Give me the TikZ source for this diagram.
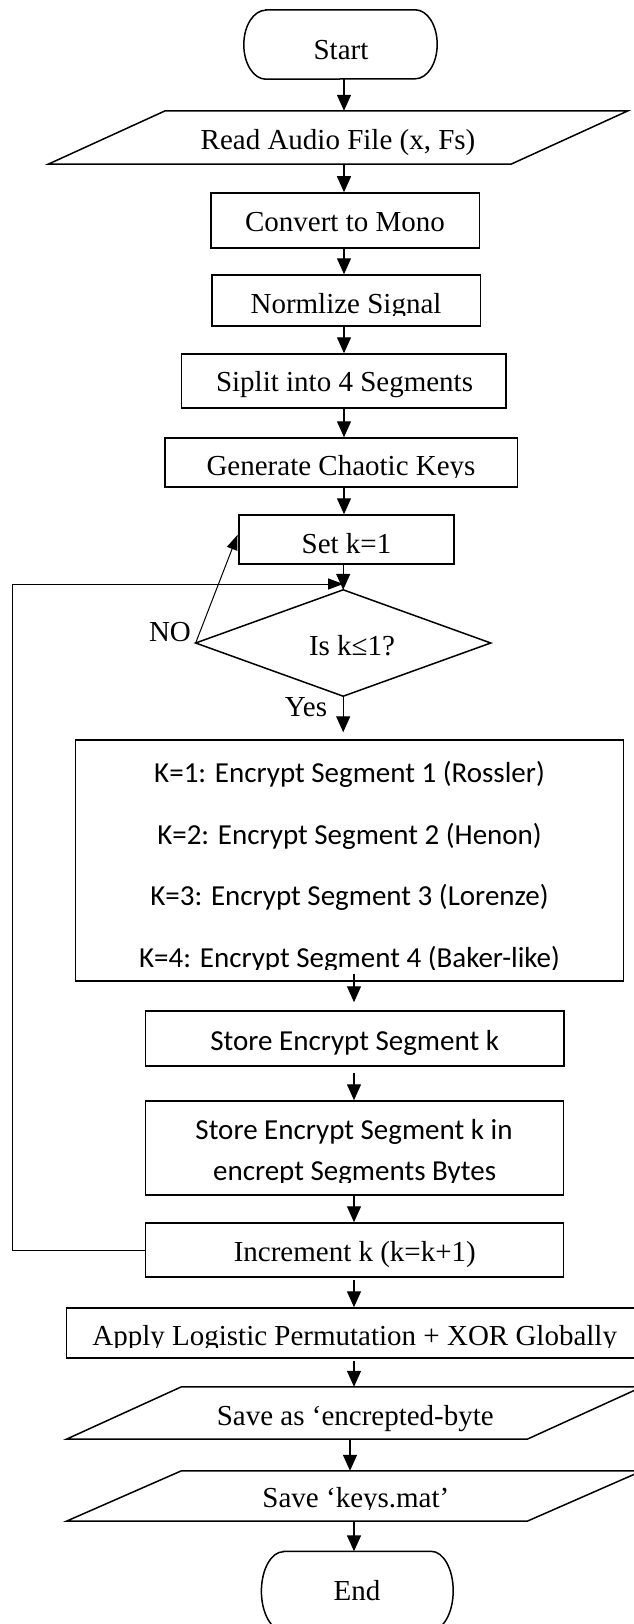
\documentclass[tikz,border=0pt]{standalone}
\usepackage{fontspec}
\setmainfont{Liberation Serif}
\newfontfamily\calfont{Carlito}
\usetikzlibrary{arrows.meta,calc}

\begin{document}
\begin{tikzpicture}[x=1pt,y=-1pt,
  outline/.style={line width=1.5pt},
  box/.style={rectangle, draw, outline, inner sep=0pt},
  ghost/.style={rectangle, draw=none, inner sep=0pt},
  lbl/.style={inner sep=0pt, anchor=base, font=\fontsize{29}{40}\selectfont},
  cal/.style={lbl, font=\calfont\fontsize{29}{40}\selectfont},
  flow/.style={line width=1.4pt, -{Triangle[length=16pt,width=14pt]}},
  thinarrow/.style={line width=1pt, -{Triangle[length=15pt,width=11pt]}},
]
\path[use as bounding box, fill=white] (0,0) rectangle (633,1624);

% column lines for the vertical connectors
\coordinate (cu) at (344,0);
\coordinate (cl) at (354,0);
\coordinate (cs) at (350,0);

% ---------- shapes ----------
\node[ghost, minimum width=193pt, minimum height=69pt] (start) at (340.5,44.5) {};
\draw[outline] ($(start.north west)+(22,0)$) -- ($(start.north east)+(-22,0)$)
  arc[start angle=90,end angle=-90,x radius=22pt,y radius=34.5pt]
  -- ($(start.south west)+(22,0)$)
  arc[start angle=270,end angle=90,x radius=22pt,y radius=34.5pt] -- cycle;

\node[ghost, minimum width=579.4pt, minimum height=53pt] (read) at (338.1,137.5) {};
\draw[outline] ($(read.north west)+(117,0)$) -- (read.north east)
  -- ($(read.south east)+(-117,0)$) -- (read.south west) -- cycle;

\node[box, minimum width=268.5pt, minimum height=55pt] (conv) at (345,220.5) {};
\node[box, minimum width=268.4pt, minimum height=51pt] (norm) at (346.2,300.5) {};
\node[box, minimum width=324.2pt, minimum height=54pt] (split) at (343.8,381) {};
\node[box, minimum width=352.5pt, minimum height=49pt] (gen) at (341,462.5) {};
\node[box, minimum width=215.2pt, minimum height=49pt] (setk) at (346.6,539.5) {};

\node[ghost, minimum width=294.7pt, minimum height=106pt] (dec) at (343.2,643) {};
\draw[outline] (dec.north) -- (dec.east) -- (dec.south) -- (dec.west) -- cycle;

\node[box, minimum width=548.2pt, minimum height=241pt] (big) at (349.6,860.5) {};
\node[box, minimum width=418.7pt, minimum height=55pt] (storek) at (354.7,1038.5) {};
\node[box, minimum width=418pt, minimum height=94pt] (storein) at (354.3,1148) {};
\node[box, minimum width=418pt, minimum height=54pt] (inc) at (354.3,1250) {};
\node[box, minimum width=576.4pt, minimum height=50pt] (apply) at (354.8,1333) {};

\node[ghost, minimum width=575.4pt, minimum height=52pt] (saveas) at (354.3,1413) {};
\draw[outline] ($(saveas.north west)+(115,0)$) -- (saveas.north east)
  -- ($(saveas.south east)+(-115,0)$) -- (saveas.south west) -- cycle;

\node[ghost, minimum width=575.4pt, minimum height=50pt] (savekeys) at (354.3,1496) {};
\draw[outline] ($(savekeys.north west)+(115,0)$) -- (savekeys.north east)
  -- ($(savekeys.south east)+(-115,0)$) -- (savekeys.south west) -- cycle;

\node[ghost, minimum width=191.4pt, minimum height=79pt] (end) at (357.3,1591) {};
\draw[outline] ($(end.north west)+(22,0)$) -- ($(end.north east)+(-22,0)$)
  arc[start angle=90,end angle=-90,x radius=22pt,y radius=39.5pt]
  -- ($(end.south west)+(22,0)$)
  arc[start angle=270,end angle=90,x radius=22pt,y radius=39.5pt] -- cycle;

% ---------- texts ----------
\node[lbl] (tstart) at (341,59.3) {Start};
\node[lbl] (tread) at (338,150) {Read Audio File (x, Fs)};
\node[lbl] (tconv) at (345,231.7) {Convert to Mono};
\begin{scope}
  \clip (0,280) rectangle (633,315);
  \node[lbl] (tnorm) at (346,313.3) {Normlize Signal};
\end{scope}
\node[lbl] (tsplit) at (344.5,391.7) {Siplit into 4 Segments};
\begin{scope}
  \clip (0,440) rectangle (633,477.7);
  \node[lbl] (tgen) at (341,475) {Generate Chaotic Keys};
\end{scope}
\node[lbl] (tsetk) at (346.5,553.3) {Set k=1};
\node[lbl] (tdec) at (352,655) {Is k≤1?};
\node[lbl] (tno) at (170,641.7) {NO};
\node[lbl] (tyes) at (306,716.7) {Yes};

\node[cal] (k1) at (349.5,782) {K=1: Encrypt Segment 1 (Rossler)};
\node[cal] (k2) at (349.5,844) {K=2: Encrypt Segment 2 (Henon)};
\node[cal] (k3) at (349.5,905) {K=3: Encrypt Segment 3 (Lorenze)};
\begin{scope}
  \clip (80,930) rectangle (620,969.5);
  \node[cal] (k4) at (349.5,967.3) {K=4: Encrypt Segment 4 (Baker-like)};
\end{scope}
\node[cal] (tstorek) at (354.7,1050) {Store Encrypt Segment k};
\node[cal] (tstore1) at (354,1139.5) {Store Encrypt Segment k in};
\begin{scope}
  \clip (150,1150) rectangle (560,1182);
  \node[cal] (tstore2) at (354.6,1180) {encrept Segments Bytes};
\end{scope}
\node[lbl] (tinc) at (354.8,1261.7) {Increment k (k=k+1)};
\begin{scope}
  \clip (70,1310) rectangle (633,1347);
  \node[lbl] (tapply) at (354.7,1345.7) {Apply Logistic Permutation + XOR Globally};
\end{scope}
\node[lbl] (tsaveas) at (355.3,1425) {Save as ‘encrepted-byte};
\begin{scope}
  \clip (100,1475) rectangle (600,1509.5);
  \node[lbl] (tsavekeys) at (355.9,1507.7) {Save ‘keys.mat’};
\end{scope}
\node[lbl] (tend) at (357,1600.7) {End};

% ---------- connectors ----------
\draw[flow] (start.south -| cu) -- (read.north -| cu);
\draw[flow] (read.south -| cu) -- (conv.north -| cu);
\draw[flow] (conv.south -| cu) -- (norm.north -| cu);
\draw[flow] (norm.south -| cu) -- (split.north -| cu);
\draw[flow] (split.south -| cu) -- (gen.north -| cu);
\draw[flow] (gen.south -| cu) -- (setk.north -| cu);
\draw[flow] (setk.south -| dec.north) -- (dec.north);
\draw[flow, shorten >=7pt] (dec.south) -- (dec.south |- big.north);
\draw[flow, shorten <=-8pt, shorten >=8pt] (big.south -| cl) -- (storek.north -| cl);
\draw[flow, shorten <=6pt] (storek.south -| cl) -- (storein.north -| cl);
\draw[flow] (storein.south -| cl) -- (inc.north -| cl);
\draw[flow, shorten <=2pt] (inc.south -| cl) -- (apply.north -| cl);
\draw[flow, shorten <=2pt] (apply.south -| cl) -- (saveas.north -| cl);
\draw[flow] (saveas.south -| cs) -- (savekeys.north -| cs);
\draw[flow] (savekeys.south -| cl) -- (end.north -| cl);

% NO branch back to the initialisation
\draw[thinarrow, shorten >=2pt] (dec.west) -- ([yshift=6.5pt]setk.west);
% loop back from the increment step
\coordinate (lp) at (12,584);
\draw[thinarrow] (inc.west) -| (lp) -- (lp -| dec.north);
\end{tikzpicture}
\end{document}
